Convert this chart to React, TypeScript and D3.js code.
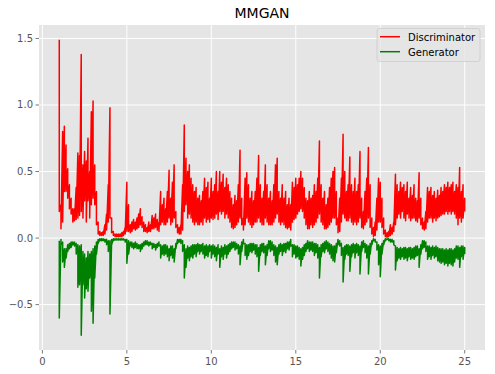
import React from "react";
import * as d3 from "d3";

// sample grid: x from 1.0 to 25.0 in 0.1 steps (241 samples)
const X_START = 1.0;
const X_STEP = 0.1;

// Discriminator: upper / lower envelope per sample
const discHi = [
  1.49, 0.25, 0.80, 0.84, 0.70, 0.52, 0.40, 0.30, 0.22, 0.22,
  0.38, 0.64, 0.62, 1.38, 0.55, 0.65, 0.58, 0.75, 0.50, 0.95,
  1.03, 0.55, 0.35, 0.12, 0.05, 0.04, 0.05, 0.10, 0.18, 0.40,
  0.98, 0.15, 0.05, 0.03, 0.03, 0.03, 0.03, 0.04, 0.05, 0.08,
  0.42, 0.25, 0.10, 0.12, 0.14, 0.12, 0.15, 0.18, 0.22, 0.16,
  0.12, 0.10, 0.08, 0.12, 0.10, 0.17, 0.15, 0.18, 0.14, 0.12,
  0.35, 0.25, 0.30, 0.22, 0.35, 0.51, 0.30, 0.42, 0.55, 0.20,
  0.10, 0.08, 0.10, 0.40, 0.85, 0.60, 0.50, 0.55, 0.45, 0.40,
  0.35, 0.38, 0.30, 0.32, 0.28, 0.35, 0.45, 0.38, 0.42, 0.30,
  0.45, 0.35, 0.40, 0.50, 0.35, 0.50, 0.42, 0.48, 0.38, 0.45,
  0.40, 0.35, 0.30, 0.25, 0.32, 0.28, 0.40, 0.66, 0.30, 0.15,
  0.45, 0.49, 0.40, 0.30, 0.35, 0.28, 0.35, 0.45, 0.62, 0.40,
  0.30, 0.35, 0.55, 0.40, 0.30, 0.35, 0.28, 0.40, 0.55, 0.60,
  0.35, 0.30, 0.40, 0.30, 0.35, 0.25, 0.30, 0.25, 0.42, 0.38,
  0.45, 0.40, 0.45, 0.50, 0.45, 0.38, 0.30, 0.28, 0.35, 0.30,
  0.32, 0.40, 0.35, 0.45, 0.73, 0.40, 0.30, 0.35, 0.25, 0.30,
  0.38, 0.45, 0.50, 0.53, 0.35, 0.15, 0.30, 0.45, 0.78, 0.50,
  0.35, 0.40, 0.61, 0.40, 0.35, 0.45, 0.35, 0.40, 0.65, 0.30,
  0.20, 0.35, 0.45, 0.68, 0.40, 0.15, 0.08, 0.12, 0.30, 0.45,
  0.42, 0.30, 0.15, 0.06, 0.04, 0.05, 0.10, 0.08, 0.12, 0.48,
  0.40, 0.35, 0.42, 0.38, 0.40, 0.35, 0.42, 0.30, 0.38, 0.32,
  0.40, 0.30, 0.28, 0.49, 0.30, 0.15, 0.12, 0.20, 0.38, 0.35,
  0.38, 0.32, 0.35, 0.30, 0.36, 0.32, 0.38, 0.35, 0.40, 0.38,
  0.42, 0.38, 0.40, 0.42, 0.35, 0.40, 0.38, 0.53, 0.35, 0.40,
  0.30,
];
const discLo = [
  0.20, 0.07, 0.12, 0.35, 0.35, 0.30, 0.22, 0.18, 0.12, 0.13,
  0.14, 0.15, 0.17, 0.20, 0.15, 0.28, 0.12, 0.28, 0.15, 0.25,
  0.30, 0.25, 0.10, 0.03, 0.02, 0.02, 0.02, 0.03, 0.06, 0.12,
  0.15, 0.04, 0.02, 0.01, 0.01, 0.01, 0.01, 0.01, 0.02, 0.03,
  0.05, 0.05, 0.04, 0.05, 0.07, 0.06, 0.07, 0.08, 0.10, 0.08,
  0.05, 0.05, 0.04, 0.05, 0.05, 0.07, 0.07, 0.08, 0.06, 0.05,
  0.10, 0.12, 0.10, 0.10, 0.12, 0.15, 0.10, 0.12, 0.15, 0.08,
  0.04, 0.03, 0.03, 0.06, 0.20, 0.25, 0.15, 0.18, 0.15, 0.12,
  0.10, 0.12, 0.10, 0.10, 0.12, 0.10, 0.15, 0.12, 0.14, 0.12,
  0.15, 0.14, 0.15, 0.18, 0.14, 0.20, 0.18, 0.20, 0.15, 0.18,
  0.15, 0.12, 0.08, 0.07, 0.08, 0.10, 0.12, 0.15, 0.10, 0.06,
  0.10, 0.15, 0.12, 0.10, 0.08, 0.10, 0.12, 0.12, 0.15, 0.12,
  0.10, 0.10, 0.15, 0.12, 0.10, 0.10, 0.10, 0.12, 0.15, 0.18,
  0.12, 0.10, 0.12, 0.10, 0.08, 0.07, 0.08, 0.06, 0.12, 0.14,
  0.15, 0.18, 0.20, 0.22, 0.20, 0.15, 0.10, 0.07, 0.07, 0.10,
  0.08, 0.10, 0.12, 0.15, 0.18, 0.12, 0.10, 0.07, 0.07, 0.08,
  0.10, 0.12, 0.15, 0.15, 0.10, 0.04, 0.05, 0.12, 0.18, 0.15,
  0.13, 0.13, 0.15, 0.12, 0.10, 0.12, 0.10, 0.12, 0.15, 0.08,
  0.07, 0.10, 0.12, 0.15, 0.08, 0.03, 0.01, 0.02, 0.06, 0.12,
  0.12, 0.08, 0.03, 0.01, 0.005, 0.01, 0.02, 0.03, 0.05, 0.10,
  0.15, 0.18, 0.15, 0.20, 0.15, 0.13, 0.18, 0.15, 0.13, 0.15,
  0.15, 0.13, 0.12, 0.15, 0.10, 0.07, 0.06, 0.07, 0.12, 0.15,
  0.15, 0.12, 0.15, 0.13, 0.15, 0.16, 0.17, 0.18, 0.18, 0.20,
  0.18, 0.20, 0.18, 0.20, 0.18, 0.15, 0.10, 0.15, 0.12, 0.15,
  0.20,
];

// Generator: upper (closest to 0) / lower envelope per sample
const genHi = [
  -0.02, -0.01, -0.03, -0.08, -0.08, -0.05, -0.04, -0.03, -0.03, -0.03,
  -0.04, -0.05, -0.06, -0.05, -0.10, -0.12, -0.15, -0.10, -0.12, -0.10,
  -0.08, -0.06, -0.03, -0.01, -0.005, -0.005, -0.005, -0.01, -0.01, -0.02,
  -0.02, -0.01, -0.005, -0.005, -0.005, -0.005, -0.005, -0.005, -0.005, -0.01,
  -0.01, -0.02, -0.03, -0.03, -0.04, -0.03, -0.04, -0.05, -0.05, -0.04,
  -0.03, -0.02, -0.02, -0.03, -0.03, -0.04, -0.04, -0.05, -0.04, -0.03,
  -0.05, -0.06, -0.05, -0.05, -0.06, -0.08, -0.06, -0.06, -0.08, -0.04,
  -0.01, -0.01, -0.01, -0.02, -0.05, -0.08, -0.06, -0.07, -0.06, -0.05,
  -0.05, -0.05, -0.04, -0.05, -0.05, -0.04, -0.06, -0.05, -0.06, -0.05,
  -0.06, -0.05, -0.06, -0.07, -0.05, -0.08, -0.06, -0.07, -0.05, -0.06,
  -0.05, -0.04, -0.03, -0.03, -0.03, -0.04, -0.05, -0.06, -0.03, -0.01,
  -0.04, -0.05, -0.05, -0.04, -0.04, -0.04, -0.05, -0.05, -0.07, -0.05,
  -0.04, -0.04, -0.06, -0.05, -0.02, -0.02, -0.03, -0.05, -0.06, -0.07,
  -0.05, -0.04, -0.05, -0.04, -0.04, -0.03, -0.03, -0.01, -0.05, -0.05,
  -0.06, -0.06, -0.07, -0.08, -0.07, -0.05, -0.04, -0.02, -0.03, -0.03,
  -0.03, -0.04, -0.04, -0.05, -0.07, -0.05, -0.04, -0.03, -0.02, -0.03,
  -0.04, -0.05, -0.06, -0.06, -0.04, -0.01, -0.02, -0.04, -0.07, -0.06,
  -0.05, -0.05, -0.06, -0.05, -0.04, -0.05, -0.04, -0.05, -0.06, -0.03,
  -0.02, -0.04, -0.05, -0.06, -0.04, -0.02, -0.005, -0.01, -0.03, -0.05,
  -0.06, -0.04, -0.02, -0.005, -0.005, -0.005, -0.01, -0.01, -0.02, -0.06,
  -0.07, -0.08, -0.07, -0.08, -0.07, -0.07, -0.08, -0.07, -0.07, -0.08,
  -0.07, -0.06, -0.06, -0.08, -0.05, -0.02, -0.02, -0.03, -0.06, -0.06,
  -0.07, -0.06, -0.07, -0.06, -0.07, -0.08, -0.08, -0.08, -0.09, -0.08,
  -0.09, -0.08, -0.08, -0.09, -0.08, -0.06, -0.06, -0.07, -0.06, -0.06,
  -0.07,
];
const genLo = [
  -0.60, -0.05, -0.18, -0.22, -0.15, -0.10, -0.08, -0.07, -0.05, -0.06,
  -0.12, -0.37, -0.35, -0.73, -0.35, -0.45, -0.38, -0.40, -0.30, -0.55,
  -0.64, -0.30, -0.12, -0.04, -0.02, -0.02, -0.02, -0.03, -0.05, -0.10,
  -0.57, -0.05, -0.02, -0.015, -0.015, -0.015, -0.015, -0.015, -0.015, -0.03,
  -0.19, -0.12, -0.06, -0.07, -0.08, -0.07, -0.08, -0.08, -0.10, -0.08,
  -0.06, -0.05, -0.05, -0.06, -0.05, -0.08, -0.07, -0.09, -0.07, -0.06,
  -0.15, -0.12, -0.13, -0.12, -0.14, -0.17, -0.13, -0.15, -0.18, -0.08,
  -0.04, -0.03, -0.04, -0.10, -0.30, -0.22, -0.15, -0.17, -0.14, -0.15,
  -0.12, -0.14, -0.10, -0.12, -0.10, -0.12, -0.15, -0.13, -0.14, -0.10,
  -0.15, -0.12, -0.14, -0.17, -0.12, -0.22, -0.14, -0.16, -0.12, -0.15,
  -0.12, -0.10, -0.08, -0.07, -0.09, -0.08, -0.12, -0.20, -0.10, -0.04,
  -0.13, -0.16, -0.13, -0.10, -0.11, -0.09, -0.12, -0.14, -0.25, -0.13,
  -0.10, -0.11, -0.20, -0.13, -0.08, -0.10, -0.09, -0.13, -0.18, -0.20,
  -0.12, -0.10, -0.13, -0.10, -0.11, -0.08, -0.09, -0.06, -0.14, -0.12,
  -0.15, -0.14, -0.16, -0.21, -0.16, -0.13, -0.10, -0.08, -0.10, -0.09,
  -0.10, -0.13, -0.11, -0.15, -0.30, -0.14, -0.10, -0.11, -0.08, -0.10,
  -0.12, -0.15, -0.17, -0.18, -0.11, -0.05, -0.06, -0.13, -0.33, -0.16,
  -0.12, -0.13, -0.25, -0.14, -0.11, -0.15, -0.11, -0.13, -0.27, -0.10,
  -0.07, -0.11, -0.15, -0.27, -0.12, -0.05, -0.02, -0.03, -0.09, -0.20,
  -0.29, -0.12, -0.05, -0.02, -0.01, -0.02, -0.03, -0.03, -0.05, -0.24,
  -0.17, -0.15, -0.16, -0.14, -0.16, -0.15, -0.17, -0.14, -0.16, -0.15,
  -0.16, -0.14, -0.13, -0.22, -0.12, -0.08, -0.07, -0.10, -0.16, -0.14,
  -0.16, -0.13, -0.15, -0.14, -0.17, -0.18, -0.19, -0.18, -0.20, -0.19,
  -0.21, -0.19, -0.20, -0.21, -0.18, -0.15, -0.16, -0.22, -0.14, -0.16,
  -0.12,
];

const xTicks = [0, 5, 10, 15, 20, 25];
const yTicks = [-0.5, 0.0, 0.5, 1.0, 1.5];
const seriesNames = ["Discriminator", "Generator"];
const seriesColors = ["#ff0000", "#008000"];
const title = "MMGAN";

const W = 495;
const H = 374;
const PL = 39, PR = 485, PT = 25, PB = 350;
const FONT = "DejaVu Sans, sans-serif";

export default function App() {
  const x = d3.scaleLinear().domain([-0.2, 26.2]).range([PL, PR]);
  const y = d3.scaleLinear().domain([-0.841, 1.601]).range([PB, PT]);

  type Pt = { x: number; v: number };
  // the dense loss curve: at each sample the line swings from the high to the low value
  const mk = (hi: number[], lo: number[]): Pt[] => {
    const pts: Pt[] = [];
    hi.forEach((h, i) => {
      const xv = X_START + i * X_STEP;
      pts.push({ x: xv, v: h }, { x: xv, v: lo[i] });
    });
    return pts;
  };
  const series = [mk(discHi, discLo), mk(genHi, genLo)];

  const line = d3
    .line<Pt>()
    .x((d) => x(d.x))
    .y((d) => y(d.v));

  const fmtY = (v: number) => (v < 0 ? "\u2212" + Math.abs(v).toFixed(1) : v.toFixed(1));

  return (
    <svg
      width={W}
      height={H}
      style={{ position: "absolute", left: 0, top: 0, background: "#fff" }}
      fontFamily={FONT}
    >
      <rect x={PL} y={PT} width={PR - PL} height={PB - PT} fill="#E5E5E5" />
      {xTicks.map((t) => (
        <line key={"gx" + t} x1={x(t)} x2={x(t)} y1={PT} y2={PB} stroke="#fff" strokeWidth={1} />
      ))}
      {yTicks.map((t) => (
        <line key={"gy" + t} x1={PL} x2={PR} y1={y(t)} y2={y(t)} stroke="#fff" strokeWidth={1} />
      ))}
      {series.map((s, i) => (
        <path
          key={"s" + i}
          d={line(s) || ""}
          fill="none"
          stroke={seriesColors[i]}
          strokeWidth={1.5}
          strokeLinejoin="round"
        />
      ))}
      {xTicks.map((t) => (
        <g key={"tx" + t}>
          <line x1={x(t)} x2={x(t)} y1={PB} y2={PB + 3.5} stroke="#555" strokeWidth={0.8} />
          <text x={x(t)} y={PB + 15} textAnchor="middle" fontSize={10} fill="#555">
            {t}
          </text>
        </g>
      ))}
      {yTicks.map((t) => (
        <g key={"ty" + t}>
          <line x1={PL - 3.5} x2={PL} y1={y(t)} y2={y(t)} stroke="#555" strokeWidth={0.8} />
          <text x={PL - 6} y={y(t) + 3.5} textAnchor="end" fontSize={10} fill="#555">
            {fmtY(t)}
          </text>
        </g>
      ))}
      <text x={(PL + PR) / 2} y={18} textAnchor="middle" fontSize={14} fill="#000">
        {title}
      </text>
      <g>
        <rect x={377} y={28.5} width={103} height={33} rx={2.5} fill="#E5E5E5" fillOpacity={0.8} stroke="#CCCCCC" strokeWidth={0.8} />
        {seriesNames.map((n, i) => (
          <g key={"lg" + i}>
            <line x1={380} x2={400} y1={36.7 + i * 15} y2={36.7 + i * 15} stroke={seriesColors[i]} strokeWidth={1.5} />
            <text x={408} y={40.5 + i * 15} fontSize={10} fill="#000">
              {n}
            </text>
          </g>
        ))}
      </g>
    </svg>
  );
}
